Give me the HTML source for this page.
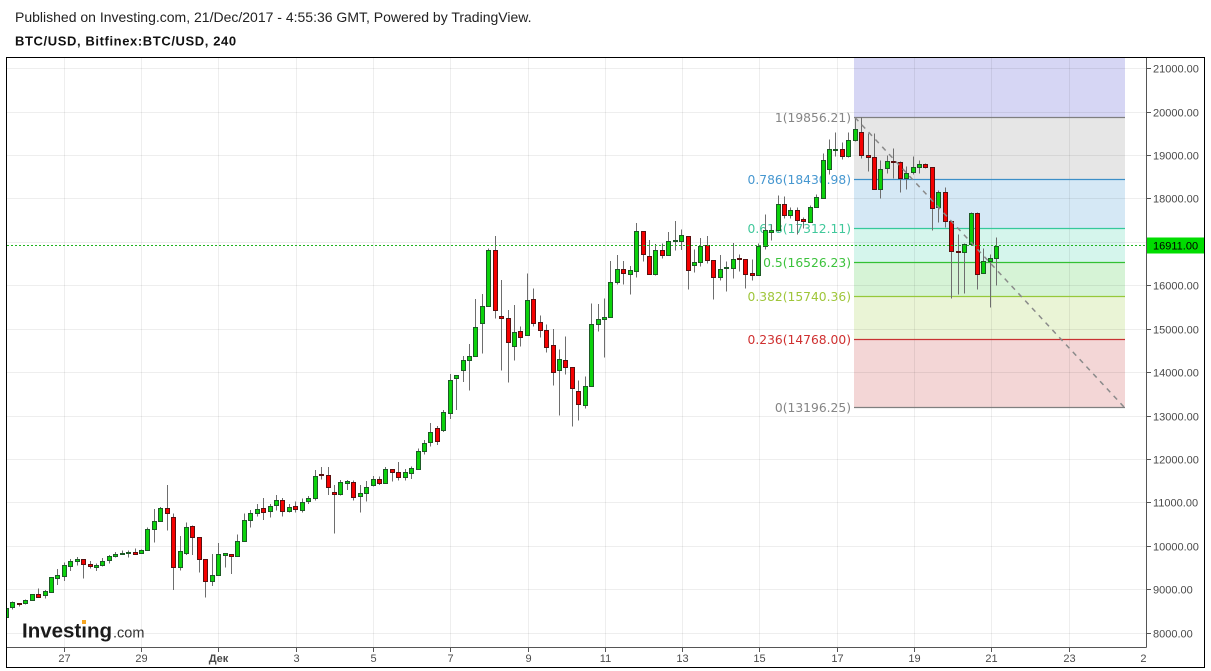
<!DOCTYPE html>
<html><head><meta charset="utf-8"><style>
html,body{margin:0;padding:0;background:#fff;}
svg{display:block;}
</style></head><body>
<svg width="1211" height="671" viewBox="0 0 1211 671" xmlns="http://www.w3.org/2000/svg">
<defs><clipPath id="pc"><rect x="7" y="58" width="1139.5" height="589"/></clipPath>
<clipPath id="xc"><rect x="7" y="648" width="1139.5" height="19"/></clipPath></defs>
<rect width="1211" height="671" fill="#fff"/>
<text x="15" y="22" font-family="Liberation Sans, Arial, sans-serif" font-size="14" fill="#222">Published on Investing.com, 21/Dec/2017 - 4:55:36 GMT, Powered by TradingView.</text>
<text x="15" y="45.5" font-family="Liberation Sans, Arial, sans-serif" font-size="13" font-weight="bold" letter-spacing="0.6" fill="#111">BTC/USD, Bitfinex:BTC/USD, 240</text>

<g>
<rect x="854" y="58" width="271" height="59.5" fill="#d6d6f4"/>
<rect x="854" y="117.5" width="271" height="62" fill="#e6e6e6"/>
<rect x="854" y="179.5" width="271" height="49" fill="#d5e8f5"/>
<rect x="854" y="228.5" width="271" height="34" fill="#d5f5ec"/>
<rect x="854" y="262.5" width="271" height="34" fill="#d6f3d6"/>
<rect x="854" y="296.5" width="271" height="43" fill="#eaf4d6"/>
<rect x="854" y="339.5" width="271" height="68" fill="#f3d6d6"/>
</g>

<g stroke="#000" stroke-opacity="0.065" stroke-width="1">
<path d="M7 68.5H1146M7 112.5H1146M7 155.5H1146M7 198.5H1146M7 242.5H1146M7 285.5H1146M7 329.5H1146M7 372.5H1146M7 416.5H1146M7 459.5H1146M7 502.5H1146M7 546.5H1146M7 589.5H1146M7 633.5H1146"/>
<path d="M64.5 58V647M141.5 58V647M218.5 58V647M296.5 58V647M373.5 58V647M450.5 58V647M528.5 58V647M605.5 58V647M682.5 58V647M759.5 58V647M837.5 58V647M914.5 58V647M991.5 58V647M1069.5 58V647"/>
</g>

<g stroke-width="1.2">
<path d="M854 117.5H1125" stroke="#7f7f7f"/>
<path d="M854 179.5H1125" stroke="#3c8fc8"/>
<path d="M854 228.5H1125" stroke="#36c99a"/>
<path d="M854 262.5H1125" stroke="#33c033"/>
<path d="M854 296.5H1125" stroke="#96c83a"/>
<path d="M854 339.5H1125" stroke="#c83232"/>
<path d="M854 407.5H1125" stroke="#7f7f7f"/>
</g>
<g font-family="DejaVu Sans, Verdana, sans-serif" font-size="12.3" text-anchor="end">
<text x="851" y="121.8" fill="#858585">1(19856.21)</text>
<text x="851" y="183.8" fill="#4697d0">0.786(18430.98)</text>
<text x="851" y="232.8" fill="#40c89b">0.618(17312.11)</text>
<text x="851" y="266.8" fill="#3cc23c">0.5(16526.23)</text>
<text x="851" y="300.8" fill="#9fc63a">0.382(15740.36)</text>
<text x="851" y="343.8" fill="#cf3030">0.236(14768.00)</text>
<text x="851" y="411.8" fill="#858585">0(13196.25)</text>
</g>

<g clip-path="url(#pc)">
<path stroke="#6e6e6e" stroke-width="1" fill="none" d="M6.5 606V619M12.5 601.5V609.5M19.5 603V606.5M25.5 599.5V604.5M32.5 594V601M38.5 588.5V598M45.5 590V598.5M51.5 577V592.5M57.5 569V585M64.5 562.5V581M70.5 559V571M77.5 557V565.5M83.5 559V578.5M90.5 561V568.5M96.5 563.5V571M102.5 558V566.5M109.5 555V563.5M115.5 552V557.5M122.5 550.5V555M128.5 550.5V557.5M135.5 548.5V555M141.5 549.5V553.5M147.5 527.5V551M154.5 509V542.5M160.5 507V521.5M167.5 485V530.5M173.5 513.5V590M180.5 536V570.5M186.5 522.5V555M192.5 525.5V555M199.5 537V572.5M205.5 559V597.5M212.5 554V586M218.5 543V575.5M225.5 553.5V567.5M231.5 554V574M237.5 534.5V556.5M244.5 513.5V541.5M250.5 510V527.5M257.5 504V516.5M263.5 498V520M270.5 504V517.5M276.5 495V510.5M282.5 498V516.5M289.5 504V512.5M295.5 501.5V512.5M302.5 498.5V512.5M308.5 496V504M315.5 470V500.5M321.5 467V479.5M328.5 467V495M334.5 485V533.5M340.5 480V495.5M347.5 480V490M353.5 480.5V500.5M360.5 485V512.5M366.5 481V501.5M373.5 476V486.5M379.5 476.5V485M385.5 467V484M392.5 469V481.5M398.5 462V480.5M405.5 469V480.5M411.5 466.5V479M418.5 448.5V470M424.5 440V454.5M430.5 423V446.5M437.5 426V445M443.5 410V432M450.5 374V419M456.5 375V410M463.5 356V382M469.5 344V390.5M475.5 299V356.5M482.5 294V353.5M488.5 248.5V306.5M495.5 236V318.5M501.5 280V370.5M508.5 310V382.5M514.5 305V360.5M520.5 326.5V346.5M527.5 273.5V335.5M533.5 288.5V326.5M540.5 315.5V337.5M546.5 324.5V352.5M553.5 329V385.5M559.5 349.5V415.5M565.5 336.5V374.5M572.5 367V426.5M578.5 380.5V420.5M585.5 376.5V408.5M591.5 303.5V386.5M598.5 304V331.5M604.5 298.5V357.5M610.5 261V317.5M617.5 255V284.5M623.5 261V284.5M630.5 266V294.5M636.5 223V277.5M643.5 231V261.5M649.5 240V274.5M655.5 244V275.5M662.5 243.5V258.5M668.5 232V255.5M675.5 221V250.5M681.5 229.5V250M688.5 236V289.5M694.5 249.5V272.5M700.5 238V266.5M707.5 236V263.5M713.5 260V299.5M720.5 255V280.5M726.5 261.5V291.5M733.5 243V278.5M739.5 254.5V271.5M745.5 259V288.5M752.5 259.5V280.5M758.5 243.5V276M765.5 214.5V249.5M771.5 224.5V240.5M778.5 195.5V231.5M784.5 196.5V218.5M790.5 207.5V218.5M797.5 207.5V234.5M803.5 217.5V228.5M810.5 205.5V222.5M816.5 194.5V207.5M823.5 153.5V198.5M829.5 139.5V174.5M835.5 132.5V156.5M842.5 142.5V159.5M848.5 132.5V157.5M855.5 117.5V141.5M861.5 117.5V158.5M868.5 133.5V171.5M874.5 133.5V189.5M880.5 160.5V198.5M887.5 155.5V173.5M893.5 148.5V178.5M900.5 161.5V192.5M906.5 166.5V189.5M913.5 156.5V174.5M919.5 160.5V173.5M925.5 163.5V168.5M932.5 167V230.5M938.5 190.5V222.5M945.5 187.5V227.5M951.5 221V298.5M958.5 234.5V294.5M964.5 243.5V293.5M971.5 212.5V244.5M977.5 212.5V289.5M983.5 248.5V273.5M990.5 254.5V307.5M996.5 237.5V285.5"/>
<g fill="#0bd20b" stroke="#1d5a26" stroke-width="1">
<rect x="4.5" y="608.5" width="4" height="9"/>
<rect x="10.5" y="602.5" width="4" height="5"/>
<rect x="23.5" y="600.5" width="4" height="3"/>
<rect x="30.5" y="594.5" width="4" height="6"/>
<rect x="43.5" y="591.5" width="4" height="4"/>
<rect x="49.5" y="577.5" width="4" height="15"/>
<rect x="55.5" y="575.5" width="4" height="3"/>
<rect x="62.5" y="565.5" width="4" height="11"/>
<rect x="68.5" y="561.5" width="4" height="5"/>
<rect x="75.5" y="559.5" width="4" height="2"/>
<rect x="94.5" y="565.5" width="4" height="2"/>
<rect x="100.5" y="561.5" width="4" height="4"/>
<rect x="107.5" y="556.5" width="4" height="4"/>
<rect x="113.5" y="554.5" width="4" height="2"/>
<rect x="120.5" y="553.5" width="4" height="1"/>
<rect x="126.5" y="552.5" width="4" height="1"/>
<rect x="139.5" y="550.5" width="4" height="3"/>
<rect x="145.5" y="529.5" width="4" height="21"/>
<rect x="152.5" y="521.5" width="4" height="8"/>
<rect x="158.5" y="508.5" width="4" height="13"/>
<rect x="178.5" y="551.5" width="4" height="16"/>
<rect x="184.5" y="527.5" width="4" height="26"/>
<rect x="210.5" y="575.5" width="4" height="6"/>
<rect x="216.5" y="554.5" width="4" height="21"/>
<rect x="223.5" y="553.5" width="4" height="2"/>
<rect x="235.5" y="541.5" width="4" height="15"/>
<rect x="242.5" y="520.5" width="4" height="21"/>
<rect x="248.5" y="513.5" width="4" height="7"/>
<rect x="255.5" y="509.5" width="4" height="4"/>
<rect x="268.5" y="506.5" width="4" height="5"/>
<rect x="274.5" y="500.5" width="4" height="5"/>
<rect x="287.5" y="507.5" width="4" height="4"/>
<rect x="300.5" y="502.5" width="4" height="8"/>
<rect x="306.5" y="498.5" width="4" height="3"/>
<rect x="313.5" y="476.5" width="4" height="22"/>
<rect x="338.5" y="482.5" width="4" height="12"/>
<rect x="345.5" y="481.5" width="4" height="2"/>
<rect x="358.5" y="493.5" width="4" height="3"/>
<rect x="364.5" y="487.5" width="4" height="6"/>
<rect x="371.5" y="479.5" width="4" height="6"/>
<rect x="383.5" y="469.5" width="4" height="14"/>
<rect x="403.5" y="472.5" width="4" height="5"/>
<rect x="409.5" y="468.5" width="4" height="5"/>
<rect x="416.5" y="451.5" width="4" height="18"/>
<rect x="422.5" y="443.5" width="4" height="8"/>
<rect x="428.5" y="432.5" width="4" height="10"/>
<rect x="441.5" y="412.5" width="4" height="18"/>
<rect x="448.5" y="380.5" width="4" height="33"/>
<rect x="454.5" y="375.5" width="4" height="3"/>
<rect x="461.5" y="360.5" width="4" height="10"/>
<rect x="467.5" y="356.5" width="4" height="4"/>
<rect x="473.5" y="327.5" width="4" height="29"/>
<rect x="480.5" y="306.5" width="4" height="17"/>
<rect x="486.5" y="250.5" width="4" height="56"/>
<rect x="512.5" y="332.5" width="4" height="14"/>
<rect x="525.5" y="300.5" width="4" height="35"/>
<rect x="557.5" y="359.5" width="4" height="11"/>
<rect x="583.5" y="386.5" width="4" height="19"/>
<rect x="589.5" y="324.5" width="4" height="62"/>
<rect x="596.5" y="319.5" width="4" height="5"/>
<rect x="602.5" y="317.5" width="4" height="2"/>
<rect x="608.5" y="282.5" width="4" height="35"/>
<rect x="615.5" y="269.5" width="4" height="13"/>
<rect x="628.5" y="270.5" width="4" height="4"/>
<rect x="634.5" y="231.5" width="4" height="40"/>
<rect x="653.5" y="250.5" width="4" height="24"/>
<rect x="666.5" y="241.5" width="4" height="14"/>
<rect x="673.5" y="240.5" width="4" height="1"/>
<rect x="679.5" y="235.5" width="4" height="6"/>
<rect x="692.5" y="262.5" width="4" height="3"/>
<rect x="698.5" y="246.5" width="4" height="16"/>
<rect x="718.5" y="269.5" width="4" height="8"/>
<rect x="724.5" y="267.5" width="4" height="1"/>
<rect x="731.5" y="259.5" width="4" height="9"/>
<rect x="756.5" y="246.5" width="4" height="29"/>
<rect x="763.5" y="230.5" width="4" height="16"/>
<rect x="769.5" y="230.5" width="4" height="2"/>
<rect x="776.5" y="204.5" width="4" height="26"/>
<rect x="788.5" y="210.5" width="4" height="5"/>
<rect x="808.5" y="207.5" width="4" height="15"/>
<rect x="814.5" y="197.5" width="4" height="10"/>
<rect x="821.5" y="160.5" width="4" height="38"/>
<rect x="827.5" y="149.5" width="4" height="20"/>
<rect x="833.5" y="149.5" width="4" height="1"/>
<rect x="846.5" y="140.5" width="4" height="16"/>
<rect x="853.5" y="129.5" width="4" height="11"/>
<rect x="878.5" y="169.5" width="4" height="20"/>
<rect x="885.5" y="161.5" width="4" height="7"/>
<rect x="904.5" y="173.5" width="4" height="5"/>
<rect x="911.5" y="167.5" width="4" height="5"/>
<rect x="917.5" y="164.5" width="4" height="3"/>
<rect x="936.5" y="192.5" width="4" height="15"/>
<rect x="962.5" y="244.5" width="4" height="8"/>
<rect x="969.5" y="213.5" width="4" height="31"/>
<rect x="981.5" y="261.5" width="4" height="12"/>
<rect x="988.5" y="258.5" width="4" height="3"/>
<rect x="994.5" y="246.5" width="4" height="12"/>
</g>
<g fill="#f50000" stroke="#5a1010" stroke-width="1">
<rect x="17.5" y="603.5" width="4" height="1"/>
<rect x="36.5" y="594.5" width="4" height="3"/>
<rect x="81.5" y="559.5" width="4" height="5"/>
<rect x="88.5" y="564.5" width="4" height="2"/>
<rect x="133.5" y="552.5" width="4" height="2"/>
<rect x="165.5" y="508.5" width="4" height="5"/>
<rect x="171.5" y="517.5" width="4" height="50"/>
<rect x="190.5" y="526.5" width="4" height="11"/>
<rect x="197.5" y="537.5" width="4" height="22"/>
<rect x="203.5" y="559.5" width="4" height="22"/>
<rect x="229.5" y="554.5" width="4" height="2"/>
<rect x="261.5" y="508.5" width="4" height="4"/>
<rect x="280.5" y="500.5" width="4" height="11"/>
<rect x="293.5" y="506.5" width="4" height="3"/>
<rect x="319.5" y="474.5" width="4" height="1"/>
<rect x="326.5" y="475.5" width="4" height="12"/>
<rect x="332.5" y="492.5" width="4" height="2"/>
<rect x="351.5" y="482.5" width="4" height="15"/>
<rect x="377.5" y="479.5" width="4" height="4"/>
<rect x="390.5" y="469.5" width="4" height="3"/>
<rect x="396.5" y="472.5" width="4" height="5"/>
<rect x="435.5" y="428.5" width="4" height="13"/>
<rect x="493.5" y="250.5" width="4" height="60"/>
<rect x="499.5" y="316.5" width="4" height="2"/>
<rect x="506.5" y="318.5" width="4" height="24"/>
<rect x="518.5" y="331.5" width="4" height="6"/>
<rect x="531.5" y="299.5" width="4" height="24"/>
<rect x="538.5" y="322.5" width="4" height="8"/>
<rect x="544.5" y="330.5" width="4" height="17"/>
<rect x="551.5" y="345.5" width="4" height="27"/>
<rect x="563.5" y="360.5" width="4" height="7"/>
<rect x="570.5" y="367.5" width="4" height="21"/>
<rect x="576.5" y="391.5" width="4" height="13"/>
<rect x="621.5" y="269.5" width="4" height="4"/>
<rect x="641.5" y="231.5" width="4" height="23"/>
<rect x="647.5" y="256.5" width="4" height="18"/>
<rect x="660.5" y="250.5" width="4" height="5"/>
<rect x="686.5" y="236.5" width="4" height="34"/>
<rect x="705.5" y="245.5" width="4" height="15"/>
<rect x="711.5" y="260.5" width="4" height="17"/>
<rect x="737.5" y="258.5" width="4" height="1"/>
<rect x="743.5" y="259.5" width="4" height="15"/>
<rect x="750.5" y="273.5" width="4" height="2"/>
<rect x="782.5" y="204.5" width="4" height="11"/>
<rect x="795.5" y="210.5" width="4" height="10"/>
<rect x="801.5" y="219.5" width="4" height="2"/>
<rect x="840.5" y="149.5" width="4" height="7"/>
<rect x="859.5" y="132.5" width="4" height="23"/>
<rect x="866.5" y="155.5" width="4" height="2"/>
<rect x="872.5" y="157.5" width="4" height="32"/>
<rect x="891.5" y="161.5" width="4" height="1"/>
<rect x="898.5" y="162.5" width="4" height="16"/>
<rect x="923.5" y="164.5" width="4" height="3"/>
<rect x="930.5" y="167.5" width="4" height="41"/>
<rect x="943.5" y="192.5" width="4" height="29"/>
<rect x="949.5" y="221.5" width="4" height="30"/>
<rect x="956.5" y="251.5" width="4" height="1"/>
<rect x="975.5" y="213.5" width="4" height="61"/>
</g>
<path d="M855 117.5L1124 407" stroke="#8a8a8a" stroke-width="1.5" stroke-dasharray="5 5" fill="none"/>
<path d="M7 245.5H1147" stroke="#1fb51f" stroke-width="1" stroke-dasharray="2 2"/>
</g>

<text x="22" y="637.5" font-family="Liberation Sans, Arial, sans-serif" font-size="20.5" font-weight="bold" fill="#1a1a1a">Investıng</text>
<rect x="82" y="620" width="4" height="4" fill="#f5a623"/>
<text x="113" y="637.5" font-family="Liberation Sans, Arial, sans-serif" font-size="14.5" fill="#333">.com</text>

<path d="M1146.5 57.5V647.5M6.5 647.5H1146.5" stroke="#555" stroke-width="1" fill="none"/>
<path stroke="#555" stroke-width="1" d="M1146.5 68.5H1151M1146.5 112.5H1151M1146.5 155.5H1151M1146.5 198.5H1151M1146.5 242.5H1151M1146.5 285.5H1151M1146.5 329.5H1151M1146.5 372.5H1151M1146.5 416.5H1151M1146.5 459.5H1151M1146.5 502.5H1151M1146.5 546.5H1151M1146.5 589.5H1151M1146.5 633.5H1151"/>
<path stroke="#555" stroke-width="1" d="M64.5 647.5V652M141.5 647.5V652M218.5 647.5V652M296.5 647.5V652M373.5 647.5V652M450.5 647.5V652M528.5 647.5V652M605.5 647.5V652M682.5 647.5V652M759.5 647.5V652M837.5 647.5V652M914.5 647.5V652M991.5 647.5V652M1069.5 647.5V652"/>
<g font-family="Liberation Sans, Arial, sans-serif" font-size="11" fill="#4a4a4a">
<text x="1153" y="72.5">21000.00</text>
<text x="1153" y="116.5">20000.00</text>
<text x="1153" y="159.5">19000.00</text>
<text x="1153" y="202.5">18000.00</text>
<text x="1153" y="289.5">16000.00</text>
<text x="1153" y="333.5">15000.00</text>
<text x="1153" y="376.5">14000.00</text>
<text x="1153" y="420.5">13000.00</text>
<text x="1153" y="463.5">12000.00</text>
<text x="1153" y="506.5">11000.00</text>
<text x="1153" y="550.5">10000.00</text>
<text x="1153" y="593.5">9000.00</text>
<text x="1153" y="637.5">8000.00</text>
</g>
<rect x="1147" y="237.5" width="57" height="16" fill="#00dd00"/>
<text x="1153" y="249.5" font-family="Liberation Sans, Arial, sans-serif" font-size="11" fill="#000">16911.00</text>
<g font-family="Liberation Sans, Arial, sans-serif" font-size="11" fill="#4a4a4a" text-anchor="middle" clip-path="url(#xc)">
<text x="64.5" y="662">27</text>
<text x="141.5" y="662">29</text>
<text x="218.5" y="662" font-weight="bold">Дек</text>
<text x="296.5" y="662">3</text>
<text x="373.5" y="662">5</text>
<text x="450.5" y="662">7</text>
<text x="528.5" y="662">9</text>
<text x="605.5" y="662">11</text>
<text x="682.5" y="662">13</text>
<text x="759.5" y="662">15</text>
<text x="837.5" y="662">17</text>
<text x="914.5" y="662">19</text>
<text x="991.5" y="662">21</text>
<text x="1069.5" y="662">23</text>
<text x="1146.5" y="662">25</text>
</g>
<rect x="6.5" y="57.5" width="1198" height="610" fill="none" stroke="#000" stroke-width="1"/>
</svg>
</body></html>
